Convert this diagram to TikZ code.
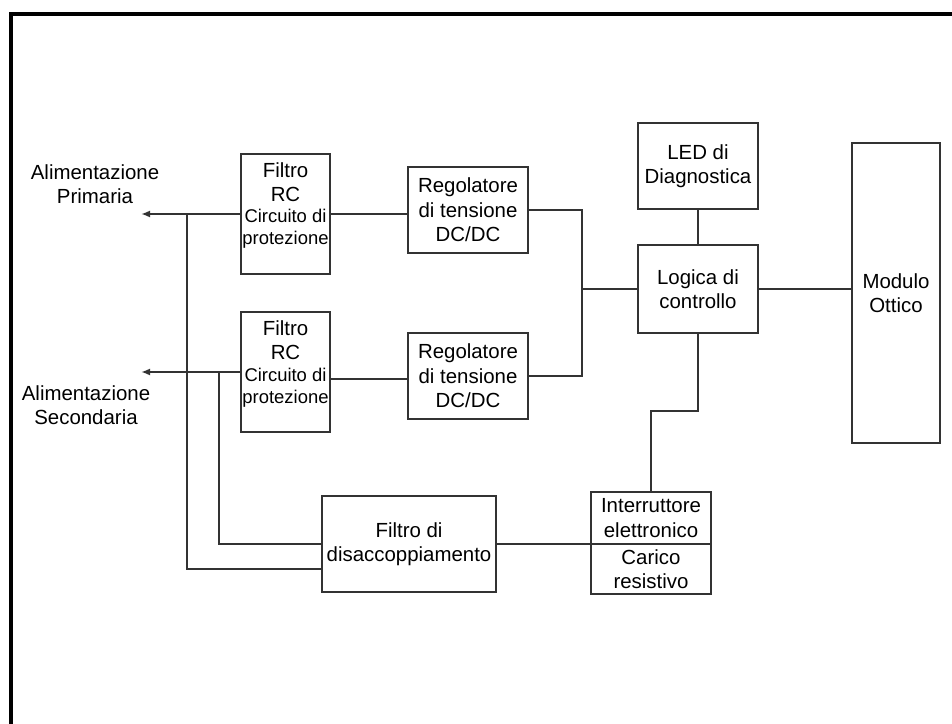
\documentclass[tikz,border=0pt]{standalone}
\usepackage{fontspec}
\setmainfont{Liberation Sans}
\usetikzlibrary{arrows.meta}
\begin{document}
\begin{tikzpicture}[x=1bp,y=-1bp,
  blk/.style={draw=black!80,line width=2bp,rectangle,inner sep=0pt,align=center,
    font=\fontsize{20.5}{24.5}\selectfont},
  txt/.style={inner sep=0pt,align=center,font=\fontsize{20.5}{24.5}\selectfont},
  small/.style={inner sep=0pt,align=center,font=\fontsize{18.5}{22}\selectfont},
  wire/.style={draw=black!80,line width=2bp},
  arr/.style={wire,-{Latex[length=9bp,width=7bp]}}]
\fill[white] (0,0) rectangle (952,724);
\useasboundingbox (0,0) rectangle (952,724);
% frame
\draw[line width=4bp] (11,724) -- (11,14) -- (952,14);

% filter boxes
\node[blk,minimum width=89bp,minimum height=120bp] (fil1) at (285.5,214) {};
\node[txt] (fil1a) at (285.5,182) {Filtro\\RC};
\node[small] (fil1b) at (285.5,229) {Circuito di\\protezione};
\node[blk,minimum width=89bp,minimum height=120bp] (fil2) at (285.5,372) {};
\node[txt] (fil2a) at (285.5,340) {Filtro\\RC};
\node[small] (fil2b) at (285.5,388) {Circuito di\\protezione};

% regulators
\node[blk,minimum width=120bp,minimum height=86bp] (reg1) at (468,210) {Regolatore\\di tensione\\DC/DC};
\node[blk,minimum width=120bp,minimum height=86bp] (reg2) at (468,376) {Regolatore\\di tensione\\DC/DC};

% LED and logic
\node[blk,minimum width=120bp,minimum height=86bp] (led) at (698,166) {LED di\\Diagnostica};
\node[blk,minimum width=120bp,minimum height=88bp] (log) at (698,289) {Logica di\\controllo};

% optical module
\node[blk,minimum width=88bp,minimum height=300bp] (mod) at (896,293) {Modulo\\Ottico};

% decoupling filter
\node[blk,minimum width=174bp,minimum height=96bp] (dis) at (409,544) {Filtro di\\disaccoppiamento};

% switch / load
\node[blk,minimum width=120bp,minimum height=52bp] (inA) at (651,518) {Interruttore\\elettronico};
\node[blk,minimum width=120bp,minimum height=50bp] (inB) at (651,569) {Carico\\resistivo};

% supply labels
\node[txt] (alp) at (95,184) {Alimentazione\\Primaria};
\node[txt] (als) at (86,405) {Alimentazione\\Secondaria};

% coordinates
\coordinate (tip1) at (141,214);
\coordinate (tip2) at (141,372);
\coordinate (j1) at (187,214);
\coordinate (j3) at (219,372);
\coordinate (j2) at (582,289);
\coordinate (k) at (698,411);

% connectors
\draw[arr] (fil1.west) -- (tip1);
\draw[arr] (fil2.west) -- (tip2);
\draw[wire] (j1) |- ([yshift=-25bp]dis.west);
\draw[wire] (j3) |- (dis.west);
\draw[wire] (fil1.east) -- (fil1.east -| reg1.west);
\draw[wire] ([yshift=-7bp]fil2.east) -- ([yshift=-7bp]fil2.east -| reg2.west);
\draw[wire] (reg1.east) -| (j2) |- (reg2.east);
\draw[wire] (j2) -- (log.west);
\draw[wire] (led.south) -- (log.north);
\draw[wire] (log.east) -- (log.east -| mod.west);
\draw[wire] (log.south) -- (k) -| (inA.north);
\draw[wire] (dis.east) -- (dis.east -| inA.west);
\end{tikzpicture}
\end{document}
